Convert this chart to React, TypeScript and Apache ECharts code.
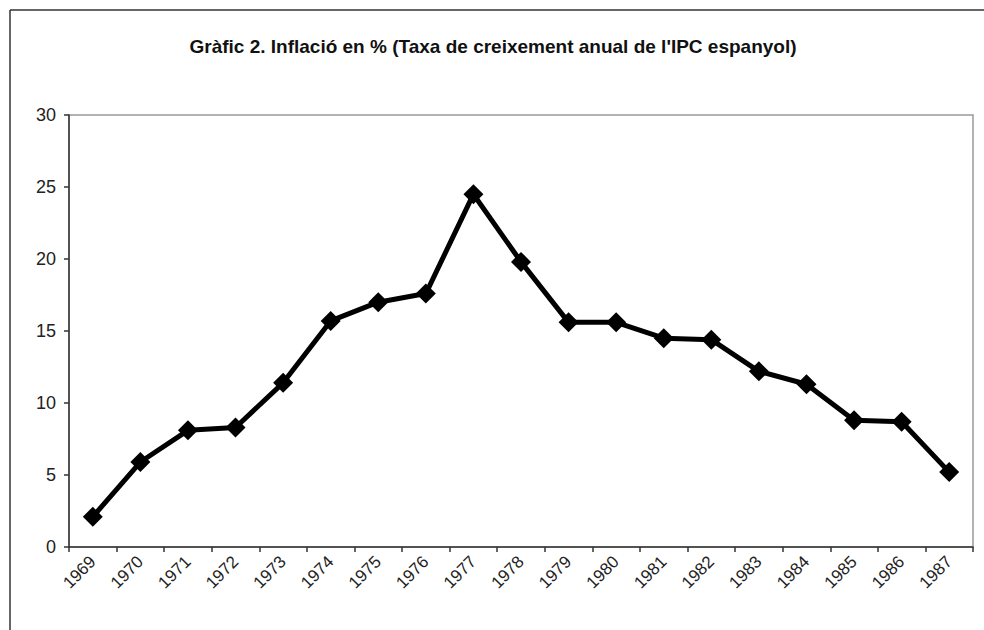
import React, { useEffect, useRef } from "react";
import * as echarts from "echarts";

const years = ["1969","1970","1971","1972","1973","1974","1975","1976","1977","1978","1979","1980","1981","1982","1983","1984","1985","1986","1987"];
const inflation = [2.1, 5.9, 8.1, 8.3, 11.4, 15.7, 17.0, 17.6, 24.5, 19.8, 15.6, 15.6, 14.5, 14.4, 12.2, 11.3, 8.8, 8.7, 5.2];
const titleText = "Gràfic 2. Inflació en % (Taxa de creixement anual de l'IPC espanyol)";

export default function App() {
  const ref = useRef<HTMLDivElement>(null);
  useEffect(() => {
    document.body.style.margin = "0";
    const chart = echarts.init(ref.current!, null, { renderer: "svg" });
    chart.setOption({
      animation: false,
      backgroundColor: "#ffffff",
      title: {
        text: titleText,
        left: 488,
        textAlign: "center",
        top: 32,
        textStyle: { fontFamily: "Liberation Sans, Arial", fontWeight: "bold", fontSize: 19, color: "#111" },
      },
      graphic: [
        { type: "line", shape: { x1: 10, y1: 10, x2: 984, y2: 10 }, style: { stroke: "#333", lineWidth: 1.5 } },
        { type: "line", shape: { x1: 10, y1: 10, x2: 10, y2: 630 }, style: { stroke: "#333", lineWidth: 1.5 } },
      ],
      grid: { left: 69, top: 115, right: 11, bottom: 83, show: true, borderColor: "#999", borderWidth: 1.5, containLabel: false },
      xAxis: {
        type: "category",
        data: years,
        boundaryGap: true,
        axisLine: { lineStyle: { color: "#333", width: 1.5 } },
        axisTick: { show: true, length: 5, alignWithLabel: false, lineStyle: { color: "#333", width: 1.5 } },
        axisLabel: { rotate: 45, fontFamily: "Liberation Sans, Arial", fontSize: 17, color: "#222", margin: 12, interval: 0 },
        splitLine: { show: false },
      },
      yAxis: {
        type: "value",
        min: 0,
        max: 30,
        interval: 5,
        axisLine: { show: true, lineStyle: { color: "#333", width: 1.5 } },
        axisTick: { show: true, length: 5, lineStyle: { color: "#333", width: 1.5 } },
        axisLabel: { fontFamily: "Liberation Sans, Arial", fontSize: 18, color: "#222", margin: 13 },
        splitLine: { show: false },
      },
      series: [
        {
          type: "line",
          data: inflation,
          symbol: "diamond",
          symbolSize: 20,
          lineStyle: { color: "#000", width: 5 },
          itemStyle: { color: "#000" },
        },
      ],
    });
    return () => chart.dispose();
  }, []);
  return <div ref={ref} style={{ width: 984, height: 630, position: "absolute", left: 0, top: 0 }} />;
}
